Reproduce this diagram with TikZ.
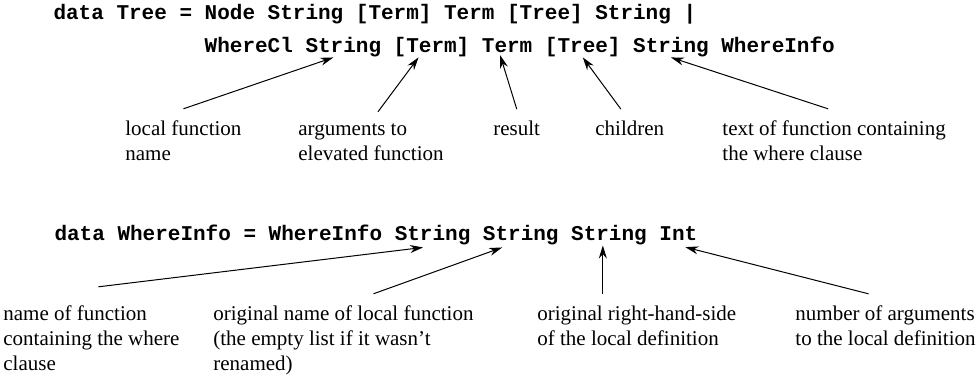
\documentclass[tikz,border=0pt]{standalone}
\usepackage{fontspec}
\setmainfont{Liberation Serif}
\setmonofont{Liberation Mono}
\usetikzlibrary{arrows.meta,positioning}

\begin{document}
\begin{tikzpicture}[x=0.5pt, y=-0.5pt,
        font=\fontsize{10.5}{12.5}\selectfont,
        code/.style={font=\fontsize{10.5}{12.5}\selectfont\ttfamily\bfseries, inner sep=0pt, outer sep=0pt},
        word/.style={code, base right=6.3pt of #1},
        note/.style={align=left, anchor=base west, inner xsep=0pt, inner ysep=6pt},
        pointer/.style={-{Stealth[length=6.5pt,width=4pt]}, line width=0.5pt}]
        \useasboundingbox (0, 0) rectangle (978, 378);

        % the Tree declaration
        \node[code, anchor=base west] (tline) at (53.5, 20) {data Tree = Node String [Term] Term [Tree] String |};
        \node[code, anchor=base west] (wcl) at (204.7, 53) {WhereCl};
        \node[word=wcl] (wname) {String};
        \node[word=wname] (wargs) {[Term]};
        \node[word=wargs] (wres) {Term};
        \node[word=wres] (wkids) {[Tree]};
        \node[word=wkids] (wtext) {String};
        \node[word=wtext] (winfo) {WhereInfo};

        % notes sit on the baseline of their last line
        \node[note] (lname) at (125, 161) {local function\\name};
        \node[note] (largs) at (298, 161) {arguments to\\elevated function};
        \node[note] (lres) at (493, 136) {result};
        \node[note] (lkids) at (595, 136) {children};
        \node[note] (ltext) at (722, 161) {text of function containing\\the where clause};

        \draw[pointer] (lname.north) -- ([xshift=-5pt]wname.south);
        \draw[pointer] ([xshift=3.5pt]largs.north) -- ([xshift=-6.5pt]wargs.south);
        \draw[pointer] (lres.north) -- ([xshift=-3.5pt, yshift=-1pt]wres.south);
        \draw[pointer] ([xshift=-4.5pt]lkids.north) -- (wkids.south);
        \draw[pointer] ([xshift=-3pt]ltext.north) -- (wtext.south);

        % the WhereInfo declaration
        \node[code, anchor=base west] (idecl) at (54.5, 241) {data WhereInfo = WhereInfo};
        \node[word=idecl] (ifun) {String};
        \node[word=ifun] (iorig) {String};
        \node[word=iorig] (irhs) {String};
        \node[word=irhs] (inum) {Int};

        \node[note] (bfun) at (3, 371) {name of function\\containing the where\\clause};
        \node[note] (borig) at (213, 371) {original name of local function\\(the empty list if it wasn't\\renamed)};
        \node[note] (brhs) at (537, 346) {original right-hand-side\\of the local definition};
        \node[note] (bnum) at (795, 346) {number of arguments\\to the local definition};

        \draw[pointer] ([xshift=3.5pt, yshift=3.5pt]bfun.north) -- ([xshift=-4.75pt, yshift=-1pt]ifun.south);
        \draw[pointer] ([xshift=15pt]borig.north) -- ([xshift=-9.3pt, yshift=-1pt]iorig.south);
        \draw[pointer] ([xshift=-17pt]brhs.north) -- ([xshift=-17pt]brhs.north |- irhs.south);
        \draw[pointer] ([xshift=-8.5pt]bnum.north) -- ([xshift=3.5pt, yshift=-3pt]inum.south);
\end{tikzpicture}
\end{document}
